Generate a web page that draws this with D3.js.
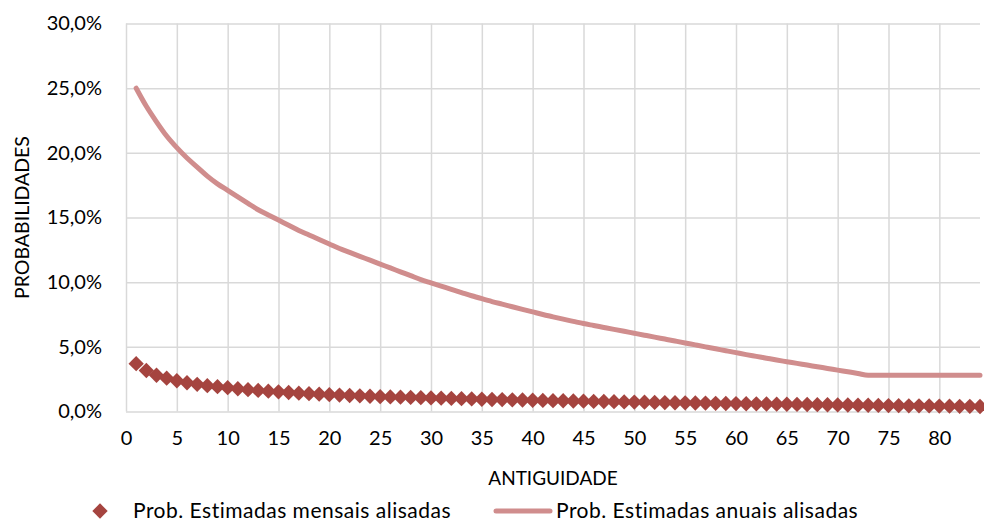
<!DOCTYPE html>
<html>
<head>
<meta charset="utf-8">
<script src="https://cdn.jsdelivr.net/npm/d3@7"></script>
<style>
  body { margin: 0; background: #fff; }
  text { font-family: Lato, "Open Sans", sans-serif; fill: #000; }
</style>
</head>
<body>
<div id="chart"></div>
<script>
// Chart data (in %)
var antiguidade = d3.range(1, 85);
var probMensais = [
  3.70, 3.17, 2.80, 2.58, 2.38, 2.22, 2.10, 2.00, 1.92, 1.84,
  1.76, 1.69, 1.63, 1.57, 1.52, 1.47, 1.42, 1.38, 1.34, 1.30,
  1.27, 1.24, 1.21, 1.18, 1.15, 1.13, 1.11, 1.09, 1.07, 1.05,
  1.03, 1.01, 0.99, 0.97, 0.95, 0.93, 0.92, 0.90, 0.89, 0.87,
  0.86, 0.84, 0.83, 0.81, 0.80, 0.78, 0.77, 0.76, 0.74, 0.73,
  0.72, 0.70, 0.69, 0.68, 0.67, 0.66, 0.65, 0.63, 0.62, 0.61,
  0.60, 0.59, 0.58, 0.57, 0.56, 0.55, 0.54, 0.53, 0.52, 0.51,
  0.50, 0.49, 0.48, 0.47, 0.46, 0.45, 0.44, 0.44, 0.43, 0.42,
  0.41, 0.40, 0.40, 0.39
];
var probAnuais = [
  25.0, 23.6, 22.4, 21.3, 20.4, 19.6, 18.9, 18.2, 17.6, 17.1,
  16.6, 16.1, 15.6, 15.2, 14.8, 14.4, 14.0, 13.65, 13.3, 12.95,
  12.6, 12.3, 12.0, 11.7, 11.4, 11.1, 10.8, 10.5, 10.2, 9.95,
  9.7, 9.45, 9.2, 8.95, 8.72, 8.5, 8.3, 8.1, 7.9, 7.7,
  7.5, 7.32, 7.14, 6.97, 6.8, 6.65, 6.5, 6.35, 6.2, 6.05,
  5.9, 5.75, 5.6, 5.45, 5.3, 5.15, 5.0, 4.85, 4.7, 4.55,
  4.4, 4.26, 4.12, 3.98, 3.85, 3.72, 3.59, 3.46, 3.33, 3.2,
  3.07, 2.94, 2.8, 2.8, 2.8, 2.8, 2.8, 2.8, 2.8, 2.8,
  2.8, 2.8, 2.8, 2.8
];
var xTicks = [0, 5, 10, 15, 20, 25, 30, 35, 40, 45, 50, 55, 60, 65, 70, 75, 80];
var yTicks = [0, 5, 10, 15, 20, 25, 30];
var seriesNames = ["Prob. Estimadas mensais alisadas", "Prob. Estimadas anuais alisadas"];

// SVG area
var svg_Width = 984;
var svg_Height = 523;
var margin = { top: 23.5, right: 4, bottom: 111.5, left: 126 };
var chart_Width = svg_Width - margin.left - margin.right;
var chart_Height = svg_Height - margin.top - margin.bottom;

var svg = d3.select("#chart")
  .append("svg")
  .attr("width", svg_Width)
  .attr("height", svg_Height);

var chart = svg.append("g")
  .attr("transform", `translate(${margin.left}, ${margin.top})`);

// Scales
var xScale = d3.scaleLinear().domain([0, 84]).range([0, chart_Width]);
var yScale = d3.scaleLinear().domain([0, 30]).range([chart_Height, 0]);

var pct = d => d3.format(".1f")(d).replace(".", ",") + "%";

// Gridlines
chart.append("g")
  .call(d3.axisLeft(yScale).tickValues(yTicks).tickSize(-chart_Width).tickFormat(""))
  .call(g => g.select(".domain").remove())
  .selectAll("line").attr("stroke", "#d9d9d9").attr("stroke-width", 1.5);

chart.append("g")
  .attr("transform", `translate(0, ${chart_Height})`)
  .call(d3.axisBottom(xScale).tickValues(xTicks).tickSize(-chart_Height).tickFormat(""))
  .call(g => g.select(".domain").remove())
  .selectAll("line").attr("stroke", "#d9d9d9").attr("stroke-width", 1.5);

// Tick labels
var yAxis = chart.append("g")
  .call(d3.axisLeft(yScale).tickValues(yTicks).tickSize(0).tickPadding(24).tickFormat(pct));
yAxis.select(".domain").remove();
yAxis.selectAll("text").style("font-size", "20px").style("font-family", "Lato");

var xAxis = chart.append("g")
  .attr("transform", `translate(0, ${chart_Height})`)
  .call(d3.axisBottom(xScale).tickValues(xTicks).tickSize(0).tickPadding(19));
xAxis.select(".domain").remove();
xAxis.selectAll("text").style("font-size", "20px").style("font-family", "Lato");

// Annual line
var line = d3.line()
  .curve(d3.curveMonotoneX)
  .x((d, i) => xScale(antiguidade[i]))
  .y(d => yScale(d));

chart.append("path")
  .datum(probAnuais)
  .attr("fill", "none")
  .attr("stroke", "#d08d8d")
  .attr("stroke-width", 5)
  .attr("stroke-linecap", "round")
  .attr("stroke-linejoin", "round")
  .attr("d", line);

// Monthly diamonds
var diamond = d3.symbol().type(d3.symbolDiamond2).size(150);
chart.selectAll(".mensal")
  .data(probMensais)
  .enter()
  .append("path")
  .attr("class", "mensal")
  .attr("transform", (d, i) => `translate(${xScale(antiguidade[i])}, ${yScale(d)})`)
  .attr("d", diamond)
  .attr("fill", "#a5443f");

// Axis titles
svg.append("text")
  .attr("transform", `translate(29, ${margin.top + chart_Height / 2}) rotate(-90)`)
  .attr("text-anchor", "middle")
  .style("font-size", "19.5px")
  .text("PROBABILIDADES");

svg.append("text")
  .attr("x", margin.left + chart_Width / 2)
  .attr("y", 485)
  .attr("text-anchor", "middle")
  .style("font-size", "19px")
  .text("ANTIGUIDADE");

// Legend
var legend = svg.append("g")
  .style("font-size", "21px")
  .style("letter-spacing", "0.5px");
legend.append("path")
  .attr("transform", "translate(100, 511)")
  .attr("d", diamond)
  .attr("fill", "#a5443f");
legend.append("text")
  .attr("x", 133).attr("y", 518)
  .text(seriesNames[0]);
legend.append("line")
  .attr("x1", 496).attr("x2", 550)
  .attr("y1", 511).attr("y2", 511)
  .attr("stroke", "#d08d8d")
  .attr("stroke-width", 5)
  .attr("stroke-linecap", "round");
legend.append("text")
  .attr("x", 556).attr("y", 518)
  .text(seriesNames[1]);
</script>
</body>
</html>
